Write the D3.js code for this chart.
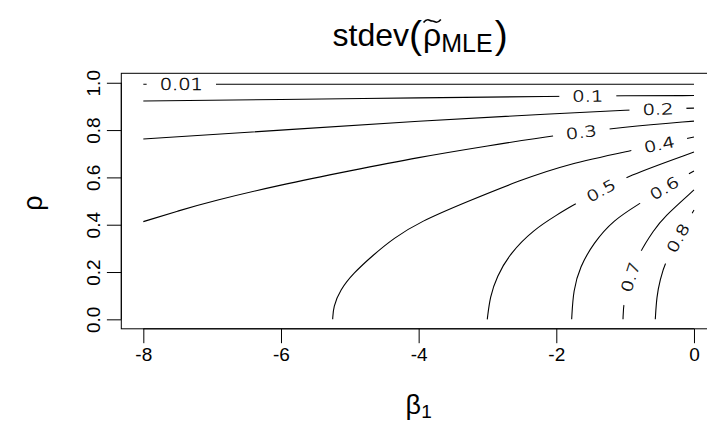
<!DOCTYPE html>
<html><head><meta charset="utf-8">
<script src="https://cdn.jsdelivr.net/npm/d3@7"></script>
<style>
body{margin:0;background:#fff;}
svg{display:block;}
text{font-family:"Liberation Sans",Arial,Helvetica,sans-serif;fill:#000;}
.clab{font-family:"DejaVu Sans",sans-serif;font-weight:200;stroke:#000;stroke-width:0.35;}
</style></head><body>
<svg id="chart" width="707" height="430"></svg>
<script>
// axis ticks
const xTicks = [-8, -6, -4, -2, 0];
const xTickLabels = ["-8", "-6", "-4", "-2", "0"];
const yTicks = [0, 0.2, 0.4, 0.6, 0.8, 1.0];
const yTickLabels = ["0.0", "0.2", "0.4", "0.6", "0.8", "1.0"];

// contour levels of stdev(rho_MLE)
const levels = [0.01, 0.1, 0.2, 0.3, 0.4, 0.5, 0.6, 0.7, 0.8];

// contour lines, as [beta1, rho] vertices
const line001 = [[-8, 0.994], [-4, 0.994], [0, 0.994]];
const line01 = [[-8, 0.923], [-6, 0.929], [-4, 0.936], [-2, 0.943], [-1, 0.945], [0, 0.946]];
const line02 = [[-8, 0.762], [-6, 0.800], [-4, 0.838], [-2, 0.870], [-1, 0.885], [0, 0.893]];
const line03 = [[-8, 0.413], [-7.5, 0.458], [-7, 0.500], [-6, 0.569], [-5, 0.628], [-4, 0.685],
                [-3, 0.733], [-2, 0.779], [-1, 0.814], [0, 0.838]];
const line04 = [[-5.249, 0], [-5.240, 0.053], [-5.142, 0.124], [-4.949, 0.195], [-4.659, 0.272],
                [-4.368, 0.342], [-3.980, 0.413], [-3.302, 0.497], [-2.528, 0.588], [-1.830, 0.657],
                [-0.930, 0.712], [0, 0.771]];
const line05 = [[-3.003, 0], [-2.963, 0.096], [-2.866, 0.180], [-2.673, 0.279], [-2.334, 0.378],
                [-1.994, 0.441], [-1.729, 0.488], [-1.351, 0.543], [-1.002, 0.602], [0, 0.707]];
const line06 = [[-1.777, 0], [-1.753, 0.124], [-1.656, 0.222], [-1.463, 0.321], [-1.172, 0.420],
                [-0.784, 0.490], [-0.436, 0.555], [0, 0.627]];
const line07 = [[-1.031, 0], [-1.024, 0.073], [-0.930, 0.179], [-0.799, 0.280], [-0.581, 0.378],
                [-0.446, 0.430], [0, 0.547]];
const line08 = [[-0.562, 0], [-0.542, 0.096], [-0.494, 0.166], [-0.411, 0.247], [-0.232, 0.344],
                [0, 0.462]];
const contourLines = [line001, line01, line02, line03, line04, line05, line06, line07, line08];

// where each level's label sits on its line, [beta1, rho]
const labelAt = [[-7.45, 0.994], [-1.54, 0.945], [-0.52, 0.888], [-1.64, 0.79], [-0.51, 0.742],
                 [-1.35, 0.543], [-0.436, 0.555], [-0.93, 0.179], [-0.232, 0.344]];

const svg = d3.select("#chart");
const plotL = 121.3, plotR = 716, plotT = 73.3, plotB = 328.8;

// R-style 4% padding around the data range
const xDom = d3.extent(xTicks), yDom = d3.extent(yTicks);
const xPad = (xDom[1] - xDom[0]) * 0.04, yPad = (yDom[1] - yDom[0]) * 0.04;
const x = d3.scaleLinear().domain([xDom[0] - xPad, xDom[1] + xPad]).range([plotL, plotR]);
const y = d3.scaleLinear().domain([yDom[0] - yPad, yDom[1] + yPad]).range([plotB, plotT]);

// title: stdev( rho-tilde _MLE )
const titleY = 46;
const title = svg.append("text").attr("y", titleY).attr("font-size", 32);
title.append("tspan").text("stdev");
title.append("tspan").attr("font-size", 39).attr("dy", 2).text("(");
const rhoSpan = title.append("tspan").attr("dy", -2).attr("dx", 1).text("ρ");
title.append("tspan").attr("font-size", 25).attr("dy", 6).text("MLE");
title.append("tspan").attr("font-size", 39).attr("dy", -4).attr("dx", 2).text(")");
const tw = title.node().getComputedTextLength();
title.attr("x", (plotL + plotR) / 2 - tw / 2);
{
  // wide tilde over rho
  const ext = rhoSpan.node().getExtentOfChar(0);
  const cx = ext.x + ext.width / 2, w = ext.width * 0.95, ty = titleY - 25;
  const tilde = d3.path();
  tilde.moveTo(cx - w / 2, ty + 1.5);
  tilde.bezierCurveTo(cx - w / 4, ty - 4, cx - w / 8, ty + 0.5, cx, ty);
  tilde.bezierCurveTo(cx + w / 8, ty - 0.5, cx + w / 4, ty + 4, cx + w / 2, ty - 1.5);
  svg.append("path").attr("d", tilde.toString()).attr("fill", "none")
    .attr("stroke", "#000").attr("stroke-width", 1.6);
}

// box
svg.append("rect").attr("x", plotL).attr("y", plotT)
  .attr("width", plotR - plotL).attr("height", plotB - plotT)
  .attr("fill", "none").attr("stroke", "#000").attr("stroke-width", 1);

// x axis
const tickLen = 14.4;
const gx = svg.append("g").attr("transform", `translate(0,${plotB})`)
  .call(d3.axisBottom(x).tickValues(xTicks).tickFormat((d, i) => xTickLabels[i])
    .tickSize(tickLen).tickPadding(4));
gx.select(".domain").remove();
gx.append("line").attr("x1", x(xDom[0])).attr("x2", x(xDom[1])).attr("stroke", "#000");
gx.selectAll("text").attr("font-size", 19).attr("font-family", null).attr("fill", "#000");
gx.selectAll("line").attr("stroke", "#000");

// y axis (labels parallel to the axis)
const gy = svg.append("g").attr("transform", `translate(${plotL},0)`)
  .call(d3.axisLeft(y).tickValues(yTicks).tickFormat((d, i) => yTickLabels[i]).tickSize(tickLen));
gy.select(".domain").remove();
gy.append("line").attr("y1", y(yDom[0])).attr("y2", y(yDom[1])).attr("stroke", "#000");
gy.selectAll("line").attr("stroke", "#000");
gy.selectAll(".tick text").attr("font-size", 19).attr("font-family", null).attr("fill", "#000")
  .attr("x", 0).attr("dy", null).attr("text-anchor", "middle")
  .attr("transform", "translate(-21.5,0) rotate(-90)");

// axis titles
const xt = svg.append("text").attr("x", (plotL + plotR) / 2).attr("y", 414)
  .attr("text-anchor", "middle").attr("font-size", 27);
xt.append("tspan").text("β");
xt.append("tspan").attr("font-size", 19).attr("dy", 4).text("1");
svg.append("text").attr("transform", `translate(42,${(plotT + plotB) / 2 + 2}) rotate(-90)`)
  .attr("text-anchor", "middle").attr("font-size", 27).text("ρ");

// contour lines with gaps for their labels
const defs = svg.append("defs");
const mask = defs.append("mask").attr("id", "labelGaps").attr("maskUnits", "userSpaceOnUse");
mask.append("rect").attr("x", 0).attr("y", 0).attr("width", 707).attr("height", 430).attr("fill", "#fff");

const lineGen = d3.line().x(d => x(d[0])).y(d => y(d[1])).curve(d3.curveBasis);
const gLines = svg.append("g").attr("mask", "url(#labelGaps)");
const gLabels = svg.append("g");

contourLines.forEach((pts, i) => {
  const path = gLines.append("path").attr("d", lineGen(pts))
    .attr("fill", "none").attr("stroke", "#000").attr("stroke-width", 1.1);
  const node = path.node();
  const total = node.getTotalLength();
  const ax = x(labelAt[i][0]), ay = y(labelAt[i][1]);
  let best = 0, bestD = Infinity;
  for (let L = 0; L <= total; L += 0.5) {
    const p = node.getPointAtLength(L);
    const dd = (p.x - ax) ** 2 + (p.y - ay) ** 2;
    if (dd < bestD) { bestD = dd; best = L; }
  }
  const p = node.getPointAtLength(best);
  const p0 = node.getPointAtLength(Math.max(0, best - 6));
  const p1 = node.getPointAtLength(Math.min(total, best + 6));
  let ang = Math.atan2(p1.y - p0.y, p1.x - p0.x) * 180 / Math.PI;
  if (ang > 90) ang -= 180;
  if (ang < -90) ang += 180;
  const t = gLabels.append("text").attr("class", "clab")
    .attr("transform", `translate(${p.x},${p.y}) rotate(${ang}) scale(1.3,1)`)
    .attr("text-anchor", "middle").attr("dy", "0.36em").attr("font-size", 15)
    .text(String(levels[i]));
  const w = t.node().getComputedTextLength() * 1.3;
  mask.append("rect").attr("x", -(w / 2 + 13)).attr("y", -6).attr("width", w + 26).attr("height", 12)
    .attr("fill", "#000").attr("transform", `translate(${p.x},${p.y}) rotate(${ang})`);
});
</script>
</body></html>
